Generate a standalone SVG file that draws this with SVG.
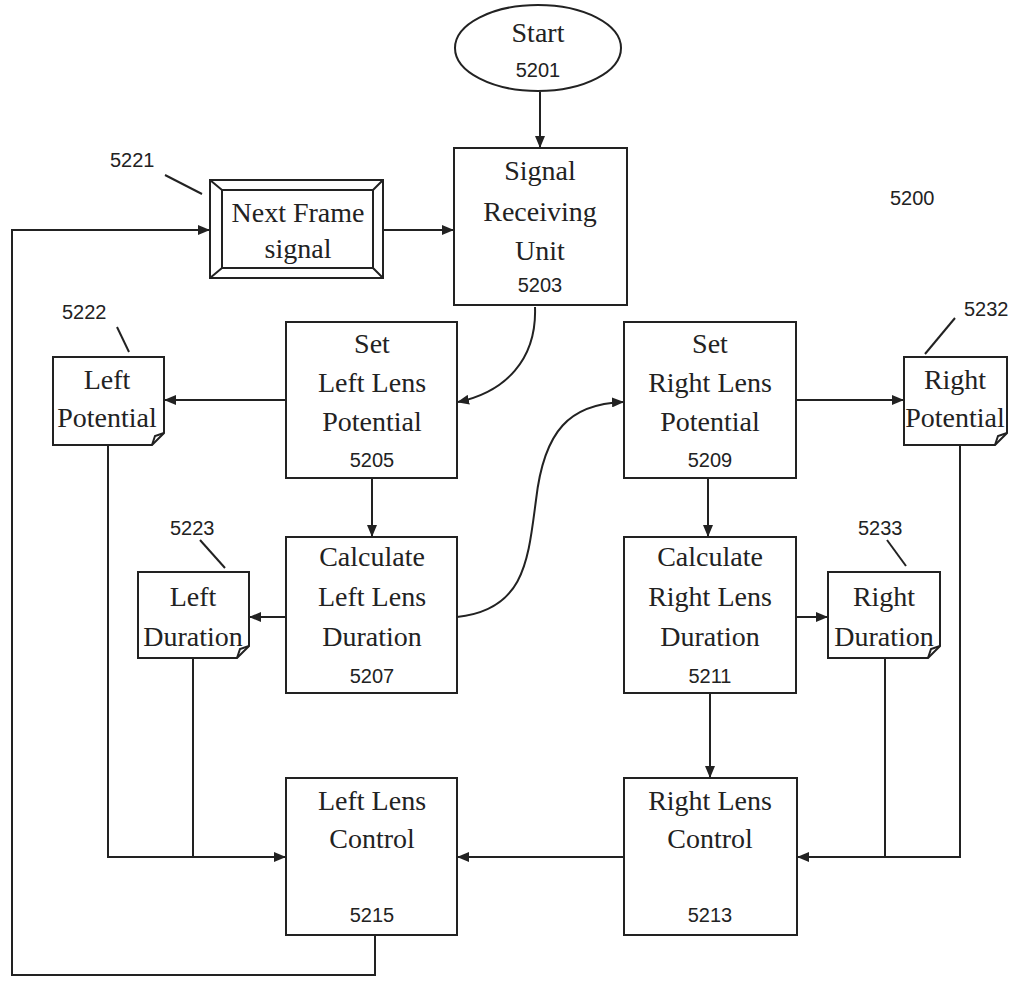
<svg xmlns="http://www.w3.org/2000/svg" width="1016" height="983" viewBox="0 0 1016 983">
<style>
.box{fill:#fff;stroke:#222;stroke-width:2}
.ln{fill:none;stroke:#222;stroke-width:2}
.t{font-family:"Liberation Serif","Times New Roman",serif;font-size:28px;fill:#222;text-anchor:middle}
.n{font-family:"Liberation Sans",Arial,sans-serif;font-size:20px;fill:#222;text-anchor:middle}
.lbl{font-family:"Liberation Sans",Arial,sans-serif;font-size:20px;fill:#222}
</style>
<defs>
<marker id="ah" viewBox="0 0 12 10" refX="11" refY="5" markerWidth="12" markerHeight="10" markerUnits="userSpaceOnUse" orient="auto">
<path d="M0,0 L12,5 L0,10 Z" fill="#222"/>
</marker>
</defs>
<rect width="1016" height="983" fill="#fff"/>

<g id="connectors">
<line class="ln" x1="540" y1="92" x2="540" y2="147" marker-end="url(#ah)"/>
<line class="ln" x1="383" y1="230" x2="453" y2="230" marker-end="url(#ah)"/>
<path class="ln" d="M375,935 V975 H12 V230 H209" marker-end="url(#ah)"/>
<path class="ln" d="M535,307 C537,360 505,392 458,402" marker-end="url(#ah)"/>
<path class="ln" d="M457,617 C525,610 528,560 536,500 C544,430 570,404 623,402" marker-end="url(#ah)"/>
<line class="ln" x1="286" y1="400" x2="165" y2="400" marker-end="url(#ah)"/>
<line class="ln" x1="372" y1="478" x2="372" y2="536" marker-end="url(#ah)"/>
<line class="ln" x1="286" y1="617" x2="250" y2="617" marker-end="url(#ah)"/>
<line class="ln" x1="796" y1="400" x2="903" y2="400" marker-end="url(#ah)"/>
<line class="ln" x1="708" y1="478" x2="708" y2="536" marker-end="url(#ah)"/>
<line class="ln" x1="796" y1="617" x2="827" y2="617" marker-end="url(#ah)"/>
<line class="ln" x1="710" y1="693" x2="710" y2="777" marker-end="url(#ah)"/>
<line class="ln" x1="624" y1="857" x2="458" y2="857" marker-end="url(#ah)"/>
<path class="ln" d="M108,445 V857 H285" marker-end="url(#ah)"/>
<line class="ln" x1="193" y1="658" x2="193" y2="857"/>
<path class="ln" d="M960,445 V857 H798" marker-end="url(#ah)"/>
<line class="ln" x1="885" y1="658" x2="885" y2="857"/>
<line class="ln" x1="165" y1="175" x2="202" y2="194" stroke-width="1.5"/>
<line class="ln" x1="117" y1="327" x2="129" y2="352" stroke-width="1.5"/>
<line class="ln" x1="200" y1="540" x2="225" y2="568" stroke-width="1.5"/>
<line class="ln" x1="955" y1="318" x2="925" y2="354" stroke-width="1.5"/>
<line class="ln" x1="887" y1="540" x2="906" y2="566" stroke-width="1.5"/>
</g>

<g id="start">
<ellipse class="box" cx="538" cy="48" rx="83" ry="43"/>
<text class="t" x="538" y="42">Start</text>
<text class="n" x="538" y="77">5201</text>
</g>

<g id="signal-receiving">
<rect class="box" x="454" y="148" width="173" height="157"/>
<text class="t" x="540" y="180">Signal</text>
<text class="t" x="540" y="221">Receiving</text>
<text class="t" x="540" y="260">Unit</text>
<text class="n" x="540" y="292">5203</text>
</g>

<g id="next-frame">
<rect class="box" x="210" y="180" width="173" height="98"/>
<rect class="box" x="222" y="190" width="151" height="78"/>
<path class="ln" d="M210,180 L222,190 M383,180 L373,190 M210,278 L222,268 M383,278 L373,268" stroke-width="1.5"/>
<text class="t" x="298" y="222">Next Frame</text>
<text class="t" x="298" y="258">signal</text>
<text class="lbl" x="110" y="167">5221</text>
</g>

<g id="set-left">
<rect class="box" x="286" y="322" width="171" height="156"/>
<text class="t" x="372" y="353">Set</text>
<text class="t" x="372" y="392">Left Lens</text>
<text class="t" x="372" y="431">Potential</text>
<text class="n" x="372" y="467">5205</text>
</g>

<g id="left-potential">
<path class="box" d="M53,357 H164 V433 L152,445 H53 Z"/>
<path class="ln" d="M152,445 L155,436 L164,433" stroke-width="1.5"/>
<text class="t" x="107" y="389">Left</text>
<text class="t" x="107" y="427">Potential</text>
<text class="lbl" x="62" y="319">5222</text>
</g>

<g id="calc-left">
<rect class="box" x="286" y="537" width="171" height="156"/>
<text class="t" x="372" y="566">Calculate</text>
<text class="t" x="372" y="606">Left Lens</text>
<text class="t" x="372" y="646">Duration</text>
<text class="n" x="372" y="683">5207</text>
</g>

<g id="left-duration">
<path class="box" d="M138,572 H249 V646 L237,658 H138 Z"/>
<path class="ln" d="M237,658 L240,649 L249,646" stroke-width="1.5"/>
<text class="t" x="193" y="606">Left</text>
<text class="t" x="193" y="646">Duration</text>
<text class="lbl" x="170" y="535">5223</text>
</g>

<g id="set-right">
<rect class="box" x="624" y="322" width="172" height="156"/>
<text class="t" x="710" y="353">Set</text>
<text class="t" x="710" y="392">Right Lens</text>
<text class="t" x="710" y="431">Potential</text>
<text class="n" x="710" y="467">5209</text>
</g>

<g id="right-potential">
<path class="box" d="M904,357 H1007 V433 L995,445 H904 Z"/>
<path class="ln" d="M995,445 L998,436 L1007,433" stroke-width="1.5"/>
<text class="t" x="955" y="389">Right</text>
<text class="t" x="955" y="427">Potential</text>
<text class="lbl" x="964" y="316">5232</text>
</g>

<g id="calc-right">
<rect class="box" x="624" y="537" width="172" height="156"/>
<text class="t" x="710" y="566">Calculate</text>
<text class="t" x="710" y="606">Right Lens</text>
<text class="t" x="710" y="646">Duration</text>
<text class="n" x="710" y="683">5211</text>
</g>

<g id="right-duration">
<path class="box" d="M828,572 H940 V646 L928,658 H828 Z"/>
<path class="ln" d="M928,658 L931,649 L940,646" stroke-width="1.5"/>
<text class="t" x="884" y="606">Right</text>
<text class="t" x="884" y="646">Duration</text>
<text class="lbl" x="858" y="535">5233</text>
</g>

<g id="left-control">
<rect class="box" x="286" y="778" width="171" height="157"/>
<text class="t" x="372" y="810">Left Lens</text>
<text class="t" x="372" y="848">Control</text>
<text class="n" x="372" y="922">5215</text>
</g>

<g id="right-control">
<rect class="box" x="624" y="778" width="173" height="157"/>
<text class="t" x="710" y="810">Right Lens</text>
<text class="t" x="710" y="848">Control</text>
<text class="n" x="710" y="922">5213</text>
</g>

<g id="label-5200">
<text class="lbl" x="890" y="205">5200</text>
</g>
</svg>
